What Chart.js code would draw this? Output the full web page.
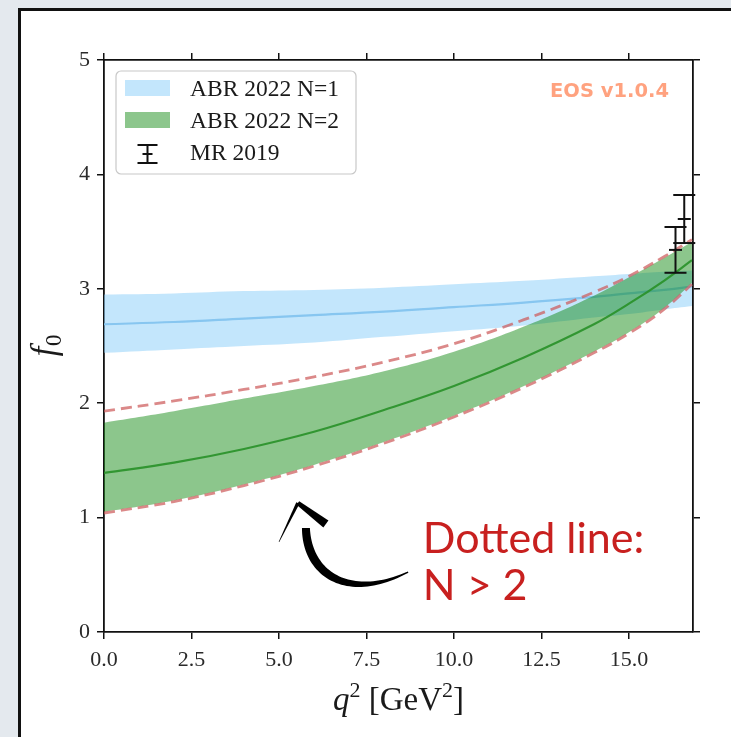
<!DOCTYPE html>
<html><head><meta charset="utf-8">
<script src="https://cdn.jsdelivr.net/npm/chart.js@4/dist/chart.umd.min.js"></script>
<style>
html,body{margin:0;padding:0;background:#e4e9ee;width:731px;height:737px;overflow:hidden}
#panel{position:absolute;left:18px;top:8px;width:760px;height:790px;background:#fff;border:3.5px solid #111;box-sizing:border-box}
#c{position:absolute;left:0;top:0}
</style></head><body>
<div id="panel"></div>
<canvas id="c" width="731" height="737"></canvas>
<script>
// ---- data ----
const q2        = [0, 2, 4, 6, 8, 10, 12, 14, 15, 16, 16.8];
const n1Lower   = [2.44, 2.47, 2.50, 2.53, 2.58, 2.63, 2.68, 2.75, 2.78, 2.82, 2.85];
const n1Center  = [2.69, 2.71, 2.74, 2.77, 2.80, 2.84, 2.88, 2.93, 2.96, 2.99, 3.02];
const n1Upper   = [2.95, 2.96, 2.98, 2.99, 3.01, 3.04, 3.07, 3.11, 3.13, 3.15, 3.16];
const n2Lower   = [1.05, 1.15, 1.29, 1.46, 1.66, 1.89, 2.15, 2.45, 2.62, 2.83, 3.05];
const n2Center  = [1.39, 1.48, 1.60, 1.75, 1.94, 2.15, 2.40, 2.69, 2.87, 3.07, 3.25];
const n2Upper   = [1.83, 1.93, 2.04, 2.15, 2.28, 2.45, 2.67, 2.94, 3.10, 3.27, 3.41];
const nGt2Upper = [1.93, 2.02, 2.12, 2.23, 2.36, 2.52, 2.73, 2.97, 3.11, 3.28, 3.43];
const nGt2Lower = [1.04, 1.14, 1.28, 1.45, 1.65, 1.88, 2.14, 2.44, 2.61, 2.82, 3.04];
const mrQ2 = [16.33, 16.58];
const mrF  = [3.34, 3.61];
const mrLo = [3.14, 3.40];
const mrHi = [3.54, 3.82];
const xTickStep = 2.5, xMin = 0, xMax = 16.83;
const yTickStep = 1, yMin = 0, yMax = 5;
const legendLabels = ['ABR 2022 N=1', 'ABR 2022 N=2', 'MR 2019'];
const watermark = 'EOS v1.0.4';
const noteLines = ['Dotted line:', 'N > 2'];
const noteAnchor = {q2: 9.11, f: [0.69, 0.28]};
const arrowCurve = [[8.69,0.524],[7.0,0.27],[5.8,0.50],[5.77,0.909]];
const arrowHead = {apex:[5.54,1.128], right:[6.34,0.944], left:[5.0,0.787]};

const pts = arr => q2.map((x,i)=>({x, y: arr[i]}));

const BLUE_FILL = 'rgba(135,206,250,0.5)';
const GREEN_FILL = 'rgba(0,128,0,0.45)';
const DASH = 'rgba(205,92,92,0.72)';
const T = 0.4;

const datasets = [
  {data: pts(n1Lower), borderWidth:0, pointRadius:0, fill:false, order:10, tension:T},
  {data: pts(n1Upper), borderWidth:0, pointRadius:0, fill:'-1', backgroundColor:BLUE_FILL, order:10, tension:T},
  {data: pts(n1Center), borderColor:'rgb(135,198,240)', borderWidth:2.2, pointRadius:0, fill:false, order:9, tension:T},
  {data: pts(n2Lower), borderWidth:0, pointRadius:0, fill:false, order:8, tension:T},
  {data: pts(n2Upper), borderWidth:0, pointRadius:0, fill:'-1', backgroundColor:GREEN_FILL, order:8, tension:T},
  {data: pts(n2Center), borderColor:'rgba(40,145,40,0.9)', borderWidth:2.2, pointRadius:0, fill:false, order:7, tension:T},
  {data: pts(nGt2Upper), borderColor:DASH, borderWidth:2.8, borderDash:[11,6], pointRadius:0, fill:false, order:6, tension:T},
  {data: pts(nGt2Lower), borderColor:DASH, borderWidth:2.8, borderDash:[11,6], pointRadius:0, fill:false, order:6, tension:T}
];
mrQ2.forEach((x,i)=>{
  datasets.push({data:[{x,y:mrLo[i]},{x,y:mrHi[i]}], borderColor:'#111', borderWidth:2, pointStyle:'line',
    pointRadius:11, pointBorderWidth:2, pointBorderColor:'#111', fill:false, order:1, clip:false});
  datasets.push({data:[{x,y:mrF[i]}], borderColor:'#111', showLine:false, pointStyle:'line',
    pointRadius:6.5, pointBorderWidth:2, pointBorderColor:'#111', fill:false, order:1, clip:false});
});

const serif = '"Liberation Serif", "DejaVu Serif", serif';
const tickFont = {family: serif, size: 22};
const gridOpts = {drawOnChartArea:false, drawTicks:true, tickLength:7, color:'#111', lineWidth:1.5};
const borderOpts = {display:true, color:'#111', width:1.8};

function taper(ctx, a, b, wa, wb){
  const dx=b[0]-a[0], dy=b[1]-a[1], L=Math.hypot(dx,dy), nx=-dy/L, ny=dx/L;
  ctx.beginPath();
  ctx.moveTo(a[0]+nx*wa/2, a[1]+ny*wa/2);
  ctx.lineTo(b[0]+nx*wb/2, b[1]+ny*wb/2);
  ctx.lineTo(b[0]-nx*wb/2, b[1]-ny*wb/2);
  ctx.lineTo(a[0]-nx*wa/2, a[1]-ny*wa/2);
  ctx.closePath(); ctx.fill();
}

const decor = {
  id:'decor',
  afterDraw(chart){
    const {ctx, chartArea:ca, scales} = chart;
    const X = v=>scales.x.getPixelForValue(v), Y = v=>scales.y.getPixelForValue(v);
    ctx.save();
    // watermark
    ctx.font = 'bold 19.5px "DejaVu Sans", sans-serif';
    ctx.fillStyle = 'rgba(255,69,0,0.5)';
    ctx.textAlign = 'right'; ctx.textBaseline = 'alphabetic';
    ctx.fillText(watermark, ca.right - 24, ca.top + 37);
    // legend
    const lx = ca.left + 12, ly = ca.top + 11, lw = 240, lh = 103;
    ctx.fillStyle = 'rgba(255,255,255,0.8)';
    ctx.strokeStyle = 'rgba(200,200,200,1)'; ctx.lineWidth = 1.2;
    ctx.beginPath(); ctx.roundRect(lx, ly, lw, lh, 5); ctx.fill(); ctx.stroke();
    const rows = [ly+17, ly+49, ly+81];
    ctx.fillStyle = BLUE_FILL; ctx.fillRect(lx+9, rows[0]-8, 45, 16);
    ctx.fillStyle = GREEN_FILL; ctx.fillRect(lx+9, rows[1]-8, 45, 16);
    const ex = lx+31.5, ey = rows[2]+2;
    ctx.strokeStyle = '#111'; ctx.lineWidth = 2;
    ctx.beginPath();
    ctx.moveTo(ex, ey-9); ctx.lineTo(ex, ey+9);
    ctx.moveTo(ex-10, ey-9); ctx.lineTo(ex+10, ey-9);
    ctx.moveTo(ex-10, ey+9); ctx.lineTo(ex+10, ey+9);
    ctx.moveTo(ex-5, ey); ctx.lineTo(ex+5, ey);
    ctx.stroke();
    ctx.fillStyle = '#1a1a1a'; ctx.textAlign = 'left';
    ctx.font = '23.5px ' + serif;
    legendLabels.forEach((t,i)=>ctx.fillText(t, lx+74, rows[i]+8));
    // x title: q^2 [GeV^2]
    const big = 33, small = 22;
    const parts = [
      {t:'q', f:'italic '+big+'px '+serif, dy:0},
      {t:'2', f:small+'px '+serif, dy:-13},
      {t:' [GeV', f:big+'px '+serif, dy:0},
      {t:'2', f:small+'px '+serif, dy:-13},
      {t:']', f:big+'px '+serif, dy:0}
    ];
    let w = 0; parts.forEach(p=>{ctx.font=p.f; p.w=ctx.measureText(p.t).width; w+=p.w;});
    let x0 = (ca.left+ca.right)/2 - w/2;
    ctx.fillStyle = '#1a1a1a';
    parts.forEach(p=>{ctx.font=p.f; ctx.fillText(p.t, x0, 710+p.dy); x0+=p.w;});
    // y title: f_0
    ctx.save();
    ctx.translate(55, (ca.top+ca.bottom)/2);
    ctx.rotate(-Math.PI/2);
    const yp = [{t:'f', f:'italic 35px '+serif, dy:0},{t:'0', f:'23px '+serif, dy:6}];
    let yw = 0; yp.forEach(p=>{ctx.font=p.f; p.w=ctx.measureText(p.t).width; yw+=p.w;});
    let yx = -yw/2;
    yp.forEach(p=>{ctx.font=p.f; ctx.fillText(p.t, yx, p.dy); yx+=p.w+1;});
    ctx.restore();
    // note text
    ctx.fillStyle = '#c8201f';
    ctx.font = '43px Lato, sans-serif';
    ctx.textAlign = 'left';
    noteLines.forEach((t,i)=>ctx.fillText(t, X(noteAnchor.q2), Y(noteAnchor.f[i])));
    // arrow
    ctx.fillStyle = '#000';
    const P = arrowCurve.map(p=>[X(p[0]), Y(p[1])]);
    const N = 48, L = [], R = [];
    for(let i=0;i<=N;i++){
      const t=i/N, u=1-t;
      const bx = u*u*u*P[0][0]+3*u*u*t*P[1][0]+3*u*t*t*P[2][0]+t*t*t*P[3][0];
      const by = u*u*u*P[0][1]+3*u*u*t*P[1][1]+3*u*t*t*P[2][1]+t*t*t*P[3][1];
      const dx = 3*u*u*(P[1][0]-P[0][0])+6*u*t*(P[2][0]-P[1][0])+3*t*t*(P[3][0]-P[2][0]);
      const dy = 3*u*u*(P[1][1]-P[0][1])+6*u*t*(P[2][1]-P[1][1])+3*t*t*(P[3][1]-P[2][1]);
      const l = Math.hypot(dx,dy)||1, nx=-dy/l, ny=dx/l;
      const ww = 0.6 + 8*Math.sin(Math.PI*(0.03+0.6*t));
      L.push([bx+nx*ww/2, by+ny*ww/2]); R.push([bx-nx*ww/2, by-ny*ww/2]);
    }
    ctx.beginPath();
    L.forEach((p,i)=>i?ctx.lineTo(p[0],p[1]):ctx.moveTo(p[0],p[1]));
    R.reverse().forEach(p=>ctx.lineTo(p[0],p[1]));
    ctx.closePath(); ctx.fill();
    const ap = [X(arrowHead.apex[0]), Y(arrowHead.apex[1])];
    taper(ctx, ap, [X(arrowHead.right[0]), Y(arrowHead.right[1])], 4.5, 8.5);
    taper(ctx, ap, [X(arrowHead.left[0]), Y(arrowHead.left[1])], 3.5, 0.6);
    ctx.restore();
  }
};

new Chart(document.getElementById('c'), {
  type:'line',
  data:{datasets},
  options:{
    responsive:false, animation:false, devicePixelRatio:1,
    layout:{padding:0},
    plugins:{legend:{display:false}, tooltip:{enabled:false}},
    scales:{
      x:{type:'linear', position:'bottom', min:xMin, max:xMax,
         ticks:{stepSize:xTickStep, includeBounds:false, font:tickFont, color:'#2a2a2a', padding:8, maxRotation:0,
                callback:v=>Number(v).toFixed(1)},
         grid:gridOpts, border:borderOpts,
         afterFit:s=>{s.height = 105;}},
      x2:{type:'linear', position:'top', min:xMin, max:xMax,
         ticks:{stepSize:xTickStep, includeBounds:false, display:false},
         grid:gridOpts, border:borderOpts,
         afterFit:s=>{s.height = 60;}},
      y:{type:'linear', position:'left', min:yMin, max:yMax,
         ticks:{stepSize:yTickStep, font:tickFont, color:'#2a2a2a', padding:7},
         grid:gridOpts, border:borderOpts,
         afterFit:s=>{s.width = 104;}},
      y2:{type:'linear', position:'right', min:yMin, max:yMax,
         ticks:{stepSize:yTickStep, display:false},
         grid:gridOpts, border:borderOpts,
         afterFit:s=>{s.width = 38;}}
    }
  },
  plugins:[decor]
});
</script>
</body></html>
